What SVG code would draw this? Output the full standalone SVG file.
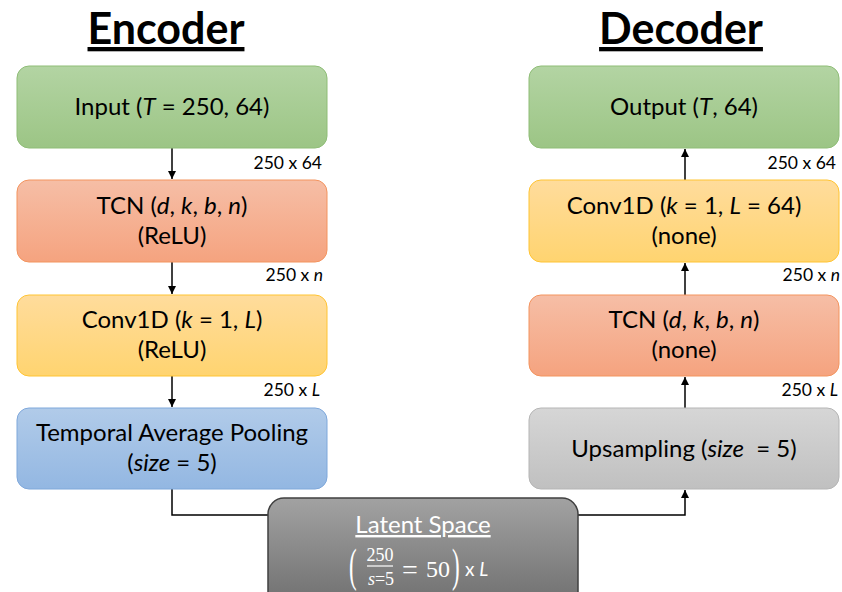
<svg xmlns="http://www.w3.org/2000/svg" width="842" height="592" viewBox="0 0 842 592">
  <defs>
    <linearGradient id="gGreen" x1="0" y1="0" x2="0" y2="1">
      <stop offset="0" stop-color="#b3d4a3"/>
      <stop offset="1" stop-color="#9cc585"/>
    </linearGradient>
    <linearGradient id="gOrange" x1="0" y1="0" x2="0" y2="1">
      <stop offset="0" stop-color="#f6bea6"/>
      <stop offset="1" stop-color="#f5a37f"/>
    </linearGradient>
    <linearGradient id="gYellow" x1="0" y1="0" x2="0" y2="1">
      <stop offset="0" stop-color="#ffdc9c"/>
      <stop offset="1" stop-color="#ffd470"/>
    </linearGradient>
    <linearGradient id="gBlue" x1="0" y1="0" x2="0" y2="1">
      <stop offset="0" stop-color="#b1cbe9"/>
      <stop offset="1" stop-color="#93b7e2"/>
    </linearGradient>
    <linearGradient id="gGray" x1="0" y1="0" x2="0" y2="1">
      <stop offset="0" stop-color="#d6d6d6"/>
      <stop offset="1" stop-color="#c0c0c0"/>
    </linearGradient>
    <linearGradient id="gDark" x1="0" y1="0" x2="0" y2="1">
      <stop offset="0" stop-color="#a2a2a2"/>
      <stop offset="1" stop-color="#6e6e6e"/>
    </linearGradient>
    <marker id="arrow" viewBox="0 0 10 10" refX="10" refY="5" markerWidth="5.5" markerHeight="5.5" orient="auto">
      <path d="M0,0 L10,5 L0,10 Z" fill="#000"/>
    </marker>
  </defs>
  <style>
    text { font-family: Lato, "Liberation Sans", sans-serif; fill: #000; }
    .title { font-size: 43px; font-weight: bold; text-anchor: middle; text-decoration: underline; }
    .node { font-size: 24px; text-anchor: middle; }
    .dim { font-size: 17.5px; text-anchor: end; }
    .math { font-family: "Liberation Serif", "DejaVu Serif", serif; fill: #fff; }
    .frac { font-size: 18px; text-anchor: middle; }
    .paren { font-size: 46px; }
    .wht { fill: #fff; }
    .edge { fill: none; stroke: #000; stroke-width: 1.5; }
    .green { fill: url(#gGreen); stroke: #8fbd77; }
    .orange { fill: url(#gOrange); stroke: #f3945f; }
    .yellow { fill: url(#gYellow); stroke: #ffc433; }
    .blue { fill: url(#gBlue); stroke: #7fa8db; }
    .gray { fill: url(#gGray); stroke: #b5b5b5; }
    .dark { fill: url(#gDark); stroke: #404040; stroke-width: 1.5; }
  </style>

  <!-- headings -->
  <text class="title" x="166" y="44">Encoder</text>
  <text class="title" x="681" y="44">Decoder</text>

  <!-- connectors -->
  <g id="connectors">
    <line class="edge" x1="172" y1="148" x2="172" y2="179" marker-end="url(#arrow)"/>
    <line class="edge" x1="172" y1="262" x2="172" y2="294" marker-end="url(#arrow)"/>
    <line class="edge" x1="172" y1="376" x2="172" y2="407" marker-end="url(#arrow)"/>
    <polyline class="edge" points="172,489 172,515 268,515"/>
    <polyline class="edge" points="578,515 685,515 685,490" marker-end="url(#arrow)"/>
    <line class="edge" x1="685" y1="408" x2="685" y2="377" marker-end="url(#arrow)"/>
    <line class="edge" x1="685" y1="295" x2="685" y2="263" marker-end="url(#arrow)"/>
    <line class="edge" x1="685" y1="180" x2="685" y2="149" marker-end="url(#arrow)"/>
    <text class="dim" x="322" y="169">250 x 64</text>
    <text class="dim" x="323" y="281">250 x <tspan font-style="italic">n</tspan></text>
    <text class="dim" x="320" y="396">250 x <tspan font-style="italic">L</tspan></text>
    <text class="dim" x="836" y="169">250 x 64</text>
    <text class="dim" x="840" y="281">250 x <tspan font-style="italic">n</tspan></text>
    <text class="dim" x="838" y="396">250 x <tspan font-style="italic">L</tspan></text>
  </g>

  <!-- encoder -->
  <g id="enc-input">
    <rect class="green" x="17" y="66" width="310" height="82" rx="12"/>
    <text class="node" x="172" y="115">Input (<tspan font-style="italic">T</tspan> = 250, 64)</text>
  </g>
  <g id="enc-tcn">
    <rect class="orange" x="17" y="180" width="310" height="82" rx="12"/>
    <text class="node" x="172" y="214">TCN (<tspan font-style="italic">d</tspan>, <tspan font-style="italic">k</tspan>, <tspan font-style="italic">b</tspan>, <tspan font-style="italic">n</tspan>)</text>
    <text class="node" x="172" y="244">(ReLU)</text>
  </g>
  <g id="enc-conv">
    <rect class="yellow" x="17" y="295" width="310" height="81" rx="12"/>
    <text class="node" x="172" y="328">Conv1D (<tspan font-style="italic">k</tspan> = 1, <tspan font-style="italic">L</tspan>)</text>
    <text class="node" x="172" y="358">(ReLU)</text>
  </g>
  <g id="enc-pool">
    <rect class="blue" x="17" y="408" width="310" height="81" rx="12"/>
    <text class="node" x="172" y="441">Temporal Average Pooling</text>
    <text class="node" x="172" y="471">(<tspan font-style="italic">size</tspan> = 5)</text>
  </g>

  <!-- decoder -->
  <g id="dec-output">
    <rect class="green" x="529" y="66" width="310" height="82" rx="12"/>
    <text class="node" x="684" y="115">Output (<tspan font-style="italic">T</tspan>, 64)</text>
  </g>
  <g id="dec-conv">
    <rect class="yellow" x="529" y="180" width="310" height="82" rx="12"/>
    <text class="node" x="684" y="214">Conv1D (<tspan font-style="italic">k</tspan> = 1, <tspan font-style="italic">L</tspan> = 64)</text>
    <text class="node" x="684" y="244">(none)</text>
  </g>
  <g id="dec-tcn">
    <rect class="orange" x="529" y="295" width="310" height="81" rx="12"/>
    <text class="node" x="684" y="328">TCN (<tspan font-style="italic">d</tspan>, <tspan font-style="italic">k</tspan>, <tspan font-style="italic">b</tspan>, <tspan font-style="italic">n</tspan>)</text>
    <text class="node" x="684" y="358">(none)</text>
  </g>
  <g id="dec-upsample">
    <rect class="gray" x="529" y="408" width="310" height="81" rx="12"/>
    <text class="node" x="684" y="457" style="white-space:pre">Upsampling (<tspan font-style="italic">size</tspan>  = 5)</text>
  </g>

  <!-- latent space -->
  <g id="latent">
    <rect class="dark" x="268" y="498" width="310" height="110" rx="16"/>
    <text class="node wht" x="423" y="533" style="text-decoration:underline">Latent Space</text>
    <text class="math paren" x="0" y="581" transform="translate(349 0) scale(0.5 1)">(</text>
    <text class="math frac" x="380" y="561">250</text>
    <line x1="367" y1="566" x2="393" y2="566" stroke="#fff" stroke-width="1.2"/>
    <text class="math frac" x="381" y="585"><tspan font-style="italic">s</tspan>=5</text>
    <text class="math" x="402" y="579" style="font-size:28px">=</text>
    <text class="math" x="426" y="577" style="font-size:24px">50</text>
    <text class="math paren" x="0" y="581" transform="translate(452 0) scale(0.5 1)">)</text>
    <text class="wht" x="465" y="576" style="font-size:19px">x <tspan font-style="italic">L</tspan></text>
  </g>
</svg>
